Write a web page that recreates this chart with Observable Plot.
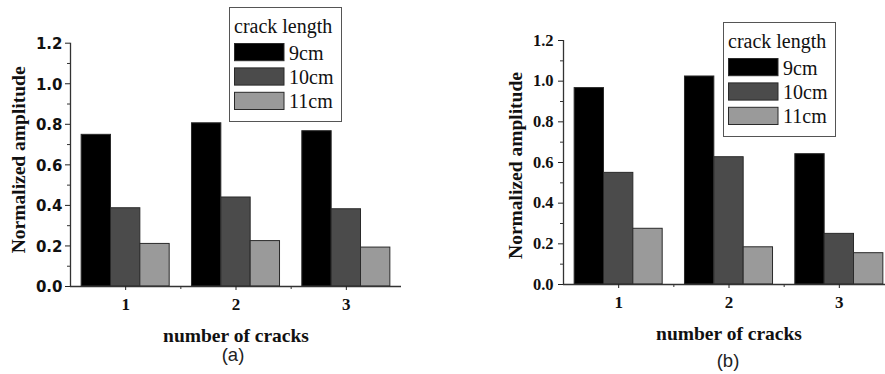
<!DOCTYPE html>
<html><head><meta charset="utf-8">
<script src="https://cdn.jsdelivr.net/npm/d3@7"></script>
<script src="https://cdn.jsdelivr.net/npm/@observablehq/plot@0.6"></script>
<style>
html,body{margin:0;padding:0;background:#fff;overflow:hidden;}
#wrap{position:relative;width:885px;height:374px;overflow:hidden;}
.panel{position:absolute;top:0;}
.legend{position:absolute;}
</style></head><body><div id="wrap"></div>
<script>
const groups = [1, 2, 3];
const series = ["9cm", "10cm", "11cm"];
// panel (a)
const a9  = [0.748, 0.805, 0.766];
const a10 = [0.386, 0.439, 0.381];
const a11 = [0.210, 0.224, 0.192];
// panel (b)
const b9  = [0.966, 1.023, 0.641];
const b10 = [0.549, 0.626, 0.249];
const b11 = [0.274, 0.183, 0.154];
const yTicks = [0, 0.2, 0.4, 0.6, 0.8, 1.0, 1.2];
const yTickLabels = ["0.0", "0.2", "0.4", "0.6", "0.8", "1.0", "1.2"];
const yMinor = [0.1, 0.3, 0.5, 0.7, 0.9, 1.1];
const xMinor = [1.5, 2.5];
const xTickLabels = ["1", "2", "3"];
const colors = ["#000000", "#4b4b4b", "#9a9a9a"];
const yLabel = "Normalized amplitude";
const xLabel = "number of cracks";
const legendTitle = "crack length";
const panelLabels = ["(a)", "(b)"];

function table(v9, v10, v11) {
  const vals = [v9, v10, v11];
  return groups.flatMap((g, i) => series.map((s, j) => ({group: g, series: s, value: vals[j][i]})));
}

const offset = d3.scaleBand().domain(series).range([-0.5, 0.5]).paddingInner(0).paddingOuter(0.38);
const SERIF = "'Liberation Serif', 'Times New Roman', serif";
const SANS = "'Liberation Sans', Arial, sans-serif";
const WIDE = "'DejaVu Sans', Verdana, sans-serif";

function panel(data, cfg) {
  return Plot.plot({
    width: cfg.width, height: 374,
    marginLeft: cfg.ml, marginRight: cfg.mr, marginTop: cfg.mt, marginBottom: cfg.mb,
    x: {domain: [0.5, 3.5]},
    y: {domain: [0, 1.2]},
    color: {domain: series, range: colors},
    style: {background: "transparent", overflow: "visible"},
    marks: [
      Plot.rect(data, {
        x1: d => d.group + offset(d.series),
        x2: d => d.group + offset(d.series) + offset.bandwidth(),
        y1: 0, y2: "value", fill: "series", stroke: "#2a2a2a", strokeWidth: 1
      }),
      Plot.ruleY([0], {stroke: "#333", strokeWidth: 1.3}),
      Plot.ruleX([0.5], {stroke: "#333", strokeWidth: 1.3}),
      Plot.axisY({ticks: yTicks, tickFormat: () => "", tickSize: 5, label: null, color: "#222"}),
      Plot.axisY({ticks: yMinor, tickFormat: () => "", tickSize: 3, label: null, color: "#333"}),
      Plot.axisX({ticks: groups, tickFormat: () => "", tickSize: 4, label: null, color: "#222"}),
      Plot.axisX({ticks: xMinor, tickFormat: () => "", tickSize: 3, label: null, color: "#333"}),
      // tick labels
      Plot.text(yTicks, {x: 0.5, y: d => d, text: (d, i) => yTickLabels[i], textAnchor: "end", lineAnchor: "middle",
        dx: -cfg.yGap, dy: cfg.yDy, fontFamily: cfg.yFont, fontWeight: "bold", fontSize: cfg.yFontSize, fill: "#111"}),
      Plot.text(groups, {x: d => d, y: 0, text: (d, i) => xTickLabels[i], textAnchor: "middle", lineAnchor: "middle",
        dy: cfg.xTickDy, fontFamily: SERIF, fontWeight: "bold", fontSize: 17, fill: "#111"}),
      // titles
      Plot.text([yLabel], {text: d => d, frameAnchor: "left", textAnchor: "middle", lineAnchor: "middle",
        rotate: -90, dx: cfg.yLabDx, dy: cfg.yLabDy,
        fontFamily: SERIF, fontWeight: "bold", fontSize: 19.5, fill: "#111"}),
      Plot.text([xLabel], {text: d => d, frameAnchor: "bottom", textAnchor: "middle", lineAnchor: "middle", dy: cfg.xLabDy,
        fontFamily: SERIF, fontWeight: "bold", fontSize: 19.5, fill: "#111"}),
      Plot.text([cfg.tag], {text: d => d, frameAnchor: "bottom", textAnchor: "middle", lineAnchor: "middle", dx: cfg.tagDx, dy: cfg.tagDy,
        fontFamily: SANS, fontSize: 18.5, fill: "#222"})
    ]
  });
}

function legend(left, top) {
  const svg = d3.create("svg").attr("class", "legend").attr("width", 114).attr("height", 116)
    .style("left", left + "px").style("top", top + "px");
  svg.append("rect").attr("x", 0.5).attr("y", 0.5).attr("width", 112).attr("height", 114)
    .attr("fill", "#fff").attr("stroke", "#555").attr("stroke-width", 1);
  svg.append("text").attr("x", 5).attr("y", 25.7).text(legendTitle)
    .attr("font-family", SERIF).attr("font-size", 20).attr("fill", "#111");
  series.forEach((s, i) => {
    const y = 36 + i * 24.4;
    svg.append("rect").attr("x", 5.5).attr("y", y + 0.5).attr("width", 49.5).attr("height", 17.2)
      .attr("fill", colors[i]).attr("stroke", "#2a2a2a").attr("stroke-width", 1);
    svg.append("text").attr("x", 60).attr("y", y + 16.5).text(s)
      .attr("font-family", SERIF).attr("font-size", 20).attr("fill", "#111");
  });
  return svg.node();
}

const wrap = document.getElementById("wrap");
const pa = panel(table(a9, a10, a11), {width: 441, ml: 70, mr: 40, mt: 42.7, mb: 88,
  yFont: WIDE, yFontSize: 15, yGap: 8, yDy: 1, xTickDy: 18,
  yLabDx: -52, yLabDy: -5, xLabDy: 49, tag: panelLabels[0], tagDx: -3, tagDy: 69});
pa.classList.add("panel"); pa.style.left = "0px";
const pb = panel(table(b9, b10, b11), {width: 449, ml: 118, mr: 0, mt: 40, mb: 90,
  yFont: SERIF, yFontSize: 16.5, yGap: 10, yDy: 0, xTickDy: 18,
  yLabDx: -48, yLabDy: 3, xLabDy: 49, tag: panelLabels[1], tagDx: -1, tagDy: 77});
pb.classList.add("panel"); pb.style.left = "445px";
wrap.appendChild(pa);
wrap.appendChild(pb);
wrap.appendChild(legend(229, 7));
wrap.appendChild(legend(723, 22));
</script></body></html>
